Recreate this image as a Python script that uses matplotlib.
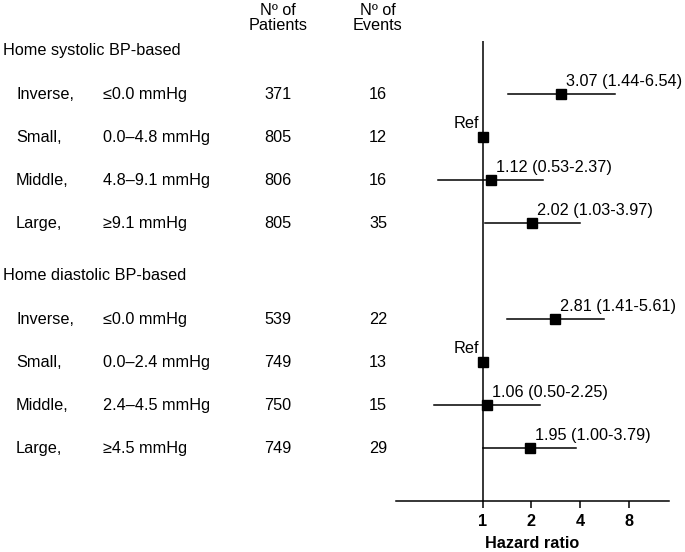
"""Forest plot: hazard ratios by home BP-based categories."""

import matplotlib
matplotlib.use("Agg")
import matplotlib.pyplot as plt
from matplotlib.ticker import FixedLocator, NullLocator
from matplotlib.transforms import blended_transform_factory

plt.rcParams["font.family"] = ["Liberation Sans", "DejaVu Sans"]

# ---- data -------------------------------------------------------------
group_titles = ["Home systolic BP-based", "Home diastolic BP-based"]
row_labels = ["Inverse,", "Small,", "Middle,", "Large,"]

sys_ranges   = ["≤0.0 mmHg", "0.0–4.8 mmHg", "4.8–9.1 mmHg", "≥9.1 mmHg"]
sys_patients = [371, 805, 806, 805]
sys_events   = [16, 12, 16, 35]
sys_hr       = [3.07, 1.00, 1.12, 2.02]
sys_lo       = [1.44, None, 0.53, 1.03]
sys_hi       = [6.54, None, 2.37, 3.97]

dia_ranges   = ["≤0.0 mmHg", "0.0–2.4 mmHg", "2.4–4.5 mmHg", "≥4.5 mmHg"]
dia_patients = [539, 749, 750, 749]
dia_events   = [22, 13, 15, 29]
dia_hr       = [2.81, 1.00, 1.06, 1.95]
dia_lo       = [1.41, None, 0.50, 1.00]
dia_hi       = [5.61, None, 2.25, 3.79]

x_ticks = [1, 2, 4, 8]

# ---- layout (row units, top = -) ----------------------------------------
W, H = 685, 552
group_rows = [[0, 1, 2, 3], [5.23, 6.23, 7.23, 8.23]]
group_head = [-1.03, 4.22]
FS = 11.7

fig = plt.figure(figsize=(W / 100, H / 100), dpi=100)
ax = fig.add_axes([396 / W, 51 / H, 273 / W, 460.3 / H])
ax.set_xscale("log", base=2)
ax.set_xlim(0.291, 14.2)
ax.set_ylim(9.458, -1.247)

for side in ("top", "right", "left"):
    ax.spines[side].set_visible(False)
ax.spines["bottom"].set_linewidth(1.1)
ax.yaxis.set_visible(False)
ax.xaxis.set_major_locator(FixedLocator(x_ticks))
ax.xaxis.set_minor_locator(NullLocator())
ax.set_xticklabels([str(t) for t in x_ticks], fontweight="bold", fontsize=FS)
ax.tick_params(axis="x", length=5, width=1.1, pad=4.5)
ax.set_xlabel("Hazard ratio", fontweight="bold", fontsize=FS, labelpad=5)

ax.axvline(1, color="black", lw=1.1, zorder=1)

fig_x = blended_transform_factory(fig.transFigure, ax.transData)

groups = [
    (sys_ranges, sys_patients, sys_events, sys_hr, sys_lo, sys_hi),
    (dia_ranges, dia_patients, dia_events, dia_hr, dia_lo, dia_hi),
]

# column headers
for cx, word in [(278, "Patients"), (378, "Events")]:
    ax.text(cx / W, -1.96, "Nº of", transform=fig_x, ha="center",
            va="center", fontsize=FS, clip_on=False)
    ax.text(cx / W, -1.61, word, transform=fig_x, ha="center",
            va="center", fontsize=FS, clip_on=False)

for gi, (ranges, pats, evts, hr, lo, hi) in enumerate(groups):
    ax.text(3 / W, group_head[gi], group_titles[gi], transform=fig_x,
            ha="left", va="center", fontsize=FS, clip_on=False)
    for ri, y in enumerate(group_rows[gi]):
        ax.text(16 / W, y, row_labels[ri], transform=fig_x, ha="left",
                va="center", fontsize=FS, clip_on=False)
        ax.text(103 / W, y, ranges[ri], transform=fig_x, ha="left",
                va="center", fontsize=FS, clip_on=False)
        ax.text(278 / W, y, str(pats[ri]), transform=fig_x, ha="center",
                va="center", fontsize=FS, clip_on=False)
        ax.text(378 / W, y, str(evts[ri]), transform=fig_x, ha="center",
                va="center", fontsize=FS, clip_on=False)

        if lo[ri] is not None:
            ax.plot([lo[ri], hi[ri]], [y, y], color="black", lw=1.1, zorder=2)
        ax.plot(hr[ri], y, marker="s", color="black", markersize=6.5,
                linestyle="none", zorder=3)
        if lo[ri] is None:
            ax.annotate("Ref", (hr[ri], y), xytext=(-4, 14),
                        textcoords="offset pixels", ha="right", va="center",
                        fontsize=FS)
        else:
            ax.annotate(f"{hr[ri]:.2f} ({lo[ri]:.2f}-{hi[ri]:.2f})",
                        (hr[ri], y), xytext=(5, 13),
                        textcoords="offset pixels", ha="left", va="center",
                        fontsize=FS)

fig.savefig("out.png", dpi=100)
